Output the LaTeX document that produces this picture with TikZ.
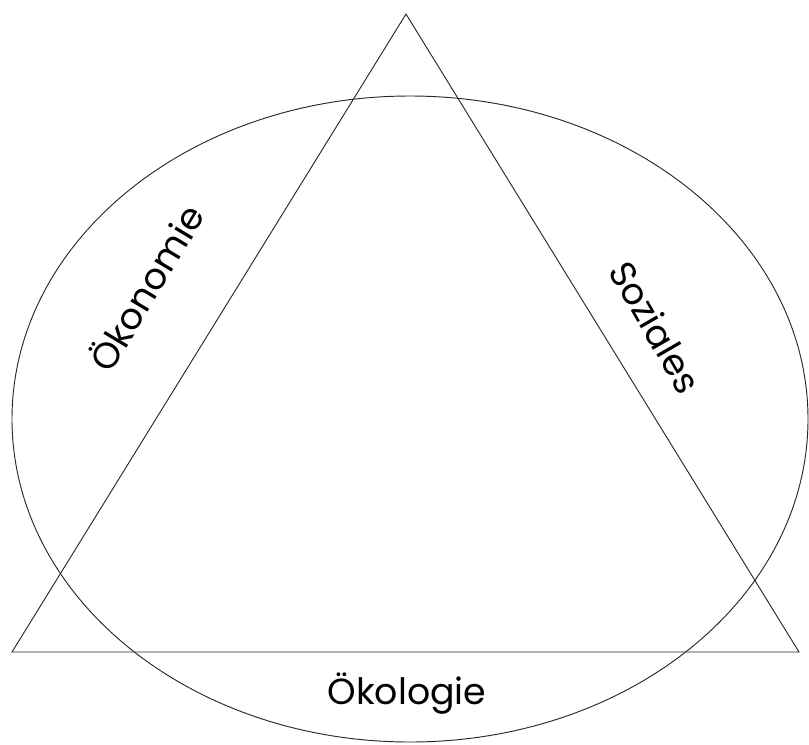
\documentclass[tikz,border=0pt]{standalone}
\usepackage{fontspec}
\setmainfont{Poppins}
\usetikzlibrary{positioning}
\definecolor{lineblack}{RGB}{40,40,40}

\begin{document}
\begin{tikzpicture}[
  x=0.03cm,y=-0.03cm,
  outline/.style={draw=lineblack,line width=0.8pt},
  dimlabel/.style={font=\fontsize{31}{36}\selectfont,inner sep=0pt}
]
\useasboundingbox (0,0) rectangle (809,744);
% the three corners of the triangle
\coordinate (top) at (406,14);
\coordinate (left) at (12,652);
\coordinate (right) at (799,652);
\draw[outline] (top) -- (left) -- (right) -- cycle;

% ellipse round it
\coordinate (mid) at (410,419);
\draw[outline] (mid) ellipse [x radius=398,y radius=323];

% labels of the three dimensions
\node[dimlabel,rotate=59] (oek) at (145,287) {Ökonomie};
\node[dimlabel,rotate=-60] (soz) at (656,327) {Soziales};
\node[dimlabel] (oeko) at (407,694) {Ökologie};
\end{tikzpicture}
\end{document}
